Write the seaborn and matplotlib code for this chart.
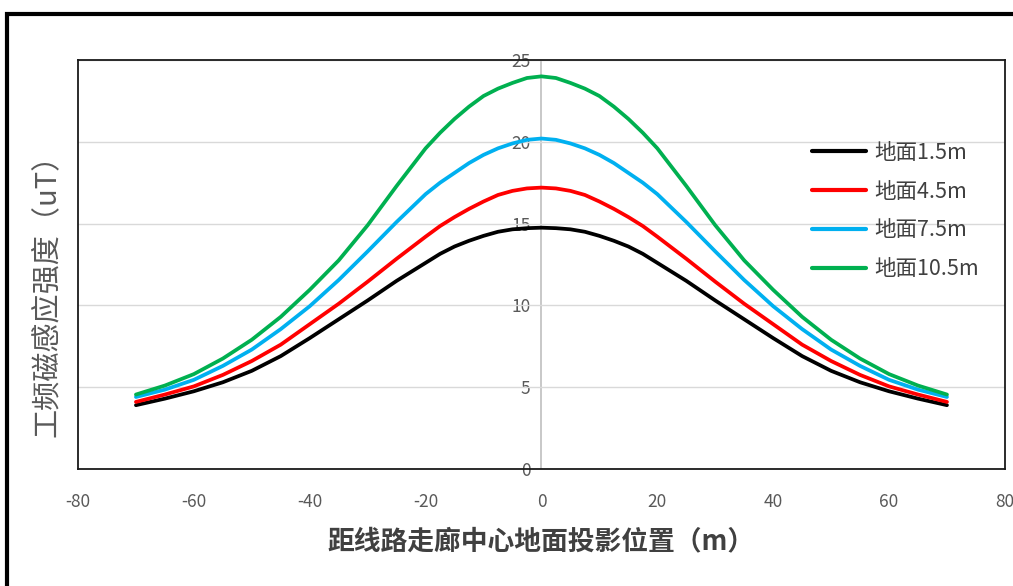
import matplotlib
matplotlib.use("Agg")
import matplotlib.pyplot as plt
import matplotlib.patches as mpatches
import seaborn as sns
import pandas as pd

# distance from corridor centre (m)
distance = [-70, -65, -60, -55, -50, -45, -40, -35, -30, -25, -20, -17.5, -15, -12.5,
            -10, -7.5, -5, -2.5, 0, 2.5, 5, 7.5, 10, 12.5, 15, 17.5, 20,
            25, 30, 35, 40, 45, 50, 55, 60, 65, 70]

# magnetic induction (uT) at four heights above ground
b_15 = [3.9, 4.3, 4.75, 5.3, 6.0, 6.9, 8.0, 9.15, 10.3, 11.5, 12.6, 13.15, 13.6, 13.95,
        14.25, 14.5, 14.65, 14.72, 14.75, 14.72, 14.65, 14.5, 14.25, 13.95, 13.6, 13.15, 12.6,
        11.5, 10.3, 9.15, 8.0, 6.9, 6.0, 5.3, 4.75, 4.3, 3.9]
b_45 = [4.1, 4.55, 5.05, 5.75, 6.6, 7.6, 8.85, 10.1, 11.45, 12.85, 14.2, 14.85, 15.4, 15.9,
        16.35, 16.75, 17.0, 17.15, 17.2, 17.15, 17.0, 16.75, 16.35, 15.9, 15.4, 14.85, 14.2,
        12.85, 11.45, 10.1, 8.85, 7.6, 6.6, 5.75, 5.05, 4.55, 4.1]
b_75 = [4.4, 4.85, 5.45, 6.3, 7.3, 8.55, 9.95, 11.55, 13.3, 15.1, 16.8, 17.5, 18.1, 18.7,
        19.2, 19.6, 19.9, 20.12, 20.2, 20.12, 19.9, 19.6, 19.2, 18.7, 18.1, 17.5, 16.8,
        15.1, 13.3, 11.55, 9.95, 8.55, 7.3, 6.3, 5.45, 4.85, 4.4]
b_105 = [4.55, 5.1, 5.8, 6.75, 7.9, 9.3, 10.95, 12.75, 14.9, 17.3, 19.6, 20.55, 21.4, 22.15,
         22.8, 23.25, 23.6, 23.9, 24.0, 23.9, 23.6, 23.25, 22.8, 22.15, 21.4, 20.55, 19.6,
         17.3, 14.9, 12.75, 10.95, 9.3, 7.9, 6.75, 5.8, 5.1, 4.55]

labels = ["地面1.5m", "地面4.5m", "地面7.5m", "地面10.5m"]
colors = ["#000000", "#FF0000", "#00B0F0", "#00B050"]
x_ticks = [-80, -60, -40, -20, 0, 20, 40, 60, 80]
y_ticks = [0, 5, 10, 15, 20, 25]

frames = []
for lab, vals in zip(labels, [b_15, b_45, b_75, b_105]):
    frames.append(pd.DataFrame({"x": distance, "B": vals, "series": lab}))
df = pd.concat(frames, ignore_index=True)

sns.set_style("white")
plt.rcParams["font.family"] = ["Noto Sans CJK SC", "DejaVu Sans"]
plt.rcParams["axes.unicode_minus"] = False

fig = plt.figure(figsize=(10.13, 5.86), dpi=100)
ax = fig.add_axes([0.077, 0.1997, 0.915, 0.6979])

# outer frame of the screenshot
fig.add_artist(mpatches.Rectangle((7 / 1013, -0.2), 1.5, 1.2 - 13.5 / 586,
                                  transform=fig.transFigure, fill=False,
                                  edgecolor="black", linewidth=3.0, clip_on=False))

sns.lineplot(data=df, x="x", y="B", hue="series", hue_order=labels,
             palette=colors, linewidth=2.7, ax=ax, sort=True, estimator=None)

ax.set_xlim(-80, 80)
ax.set_ylim(0, 25)
ax.set_xticks(x_ticks)
ax.set_yticks(y_ticks)
ax.grid(axis="y", color="#D9D9D9", linewidth=1.0)
ax.set_axisbelow(True)
ax.axvline(0, color="#BFBFBF", linewidth=1.2, zorder=0.5)

for sp in ax.spines.values():
    sp.set_visible(True)
    sp.set_color("#1a1a1a")
    sp.set_linewidth(1.3)

ax.tick_params(axis="x", length=0, pad=17, labelsize=12.5, labelcolor="#595959")
ax.tick_params(axis="y", length=0, labelleft=False)

# y tick labels sit on the vertical axis at x = 0
sec = ax.secondary_yaxis(0.5)
sec.set_yticks(y_ticks)
sec.spines["left"].set_visible(False)
sec.spines["right"].set_visible(False)
sec.tick_params(length=0, pad=8, labelsize=12.5, labelcolor="#595959",
                left=True, right=False, labelleft=True, labelright=False)

ax.set_xlabel("距线路走廊中心地面投影位置（m）", fontsize=19.3, fontweight="bold",
              color="#404040", labelpad=12)
fig.text(0.046, 0.508, "工频磁感应强度（uT）", rotation=90, fontsize=21,
         color="#595959", ha="center", va="center")
ax.set_ylabel("")

handles, labs = ax.get_legend_handles_labels()
leg = ax.legend(handles, labs, loc="upper left", bbox_to_anchor=(0.792, 0.80),
                frameon=False, fontsize=15.5, handlelength=2.5, handletextpad=0.4,
                labelspacing=0.78, borderpad=0, borderaxespad=0)
for t in leg.get_texts():
    t.set_color("#404040")
for h in leg.get_lines():
    h.set_linewidth(3.0)

fig.savefig("out.png", dpi=100)
